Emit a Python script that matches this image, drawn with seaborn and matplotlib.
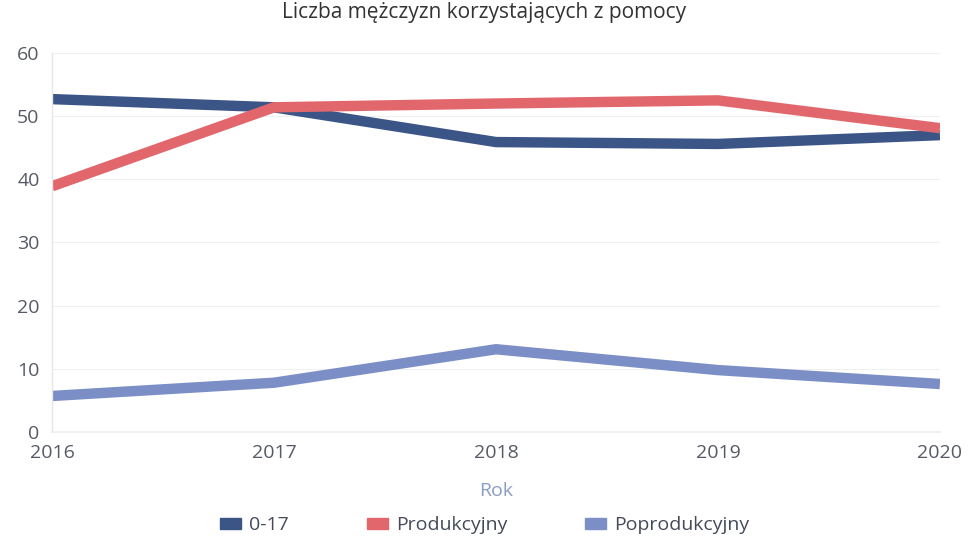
import matplotlib
matplotlib.use("Agg")
import matplotlib.pyplot as plt
import seaborn as sns
import pandas as pd
from matplotlib.patches import Patch

years = [2016, 2017, 2018, 2019, 2020]
series_names = ["0-17", "Produkcyjny", "Poprodukcyjny"]
v_0_17 = [52.7, 51.4, 45.9, 45.6, 47.0]
v_prod = [38.9, 51.4, 52.0, 52.5, 48.1]
v_poprod = [5.7, 7.8, 13.1, 9.8, 7.6]
colors = ["#3b5587", "#e2676c", "#7b8ec6"]
title = "Liczba mężczyzn korzystających z pomocy"

rows = []
for name, vals in zip(series_names, [v_0_17, v_prod, v_poprod]):
    for y, v in zip(years, vals):
        rows.append({"Rok": y, "Wartość": v, "Seria": name})
df = pd.DataFrame(rows)

sns.set_theme(style="white")
plt.rcParams["font.family"] = ["Open Sans", "DejaVu Sans"]

fig = plt.figure(figsize=(9.69, 5.52), dpi=100)
ax = fig.add_axes([0.0537, 0.2174, 0.9163, 0.6866])

sns.lineplot(data=df, x="Rok", y="Wartość", hue="Seria", hue_order=series_names,
             palette=colors, linewidth=7.5, ax=ax, legend=False,
             solid_capstyle="butt")

ax.set_xlim(2016, 2020)
ax.set_ylim(0, 60)
ax.set_yticks(range(0, 61, 10))
ax.set_xticks(years)
ax.set_xticklabels([str(y) for y in years])
ax.tick_params(axis="both", labelsize=14, colors="#555a66", length=0, pad=9)
ax.yaxis.grid(True, color="#f0f0f0", linewidth=0.8)
ax.set_ylabel("")
ax.set_xlabel("Rok", fontsize=14, color="#8a9cc4", labelpad=14)
for s in ["top", "right"]:
    ax.spines[s].set_visible(False)
ax.spines["bottom"].set_color("#eeeeee")
ax.spines["left"].set_color("#e6e6ea")
ax.spines["left"].set_linewidth(1.0)

fig.text(0.5, 0.997, title, ha="center", va="top", fontsize=15, color="#333333")

handles = [Patch(facecolor=c, edgecolor=c) for c in colors]
fig.legend(handles, series_names, loc="lower center", ncol=3, frameon=False,
           bbox_to_anchor=(0.5, 0.0), fontsize=14, handletextpad=0.4,
           handlelength=1.1, handleheight=0.55,
           columnspacing=4.0, labelcolor="#444a58")

fig.savefig("out.png", dpi=100, facecolor="white")
